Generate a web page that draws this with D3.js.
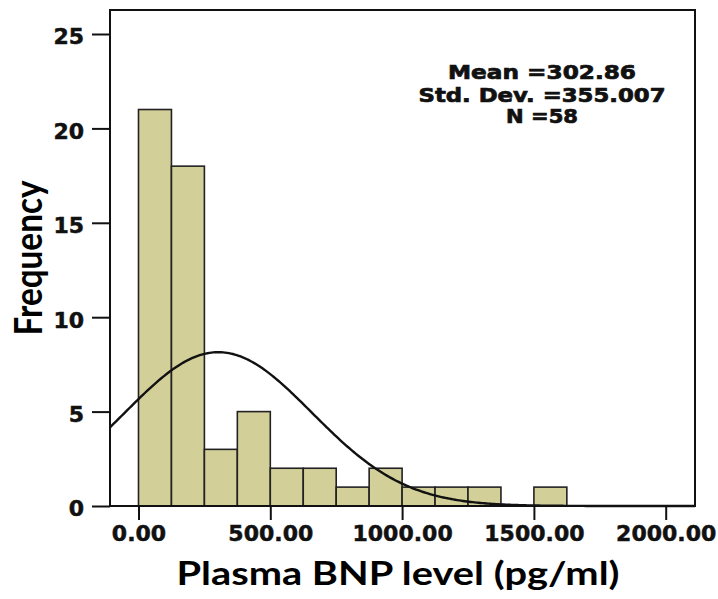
<!DOCTYPE html>
<html>
<head>
<meta charset="utf-8">
<script src="https://cdn.jsdelivr.net/npm/d3@7"></script>
<style>
  body { margin: 0; background: #fff; }
  svg { display: block; }
</style>
</head>
<body>
<script>
// histogram bins (lower edge) and counts
const binStarts = [0, 125, 250, 375, 500, 625, 750, 875, 1000, 1125, 1250, 1375, 1500];
const counts    = [21, 18, 3, 5, 2, 2, 1, 2, 1, 1, 1, 0, 1];
const binWidth = 125;

const xTicks = [0, 500, 1000, 1500, 2000];
const yTicks = [0, 5, 10, 15, 20, 25];

const mean = 302.86;
const sd = 355.007;
const n = 58;
const statLines = ["Mean =302.86", "Std. Dev. =355.007", "N =58"];

const width = 718, height = 599;
const frame = {left: 110, right: 695, top: 10, bottom: 506};

const svg = d3.select("body").append("svg")
  .attr("width", width)
  .attr("height", height);

const xScale = d3.scaleLinear()
  .domain([0, 2000])
  .range([138.5, 665.7]);

const yScale = d3.scaleLinear()
  .domain([0, 25])
  .range([frame.bottom, 34]);

// bars
svg.selectAll("rect.bar")
  .data(binStarts)
  .enter()
  .append("rect")
  .attr("class", "bar")
  .attr("x", d => xScale(d))
  .attr("y", (d, i) => yScale(counts[i]))
  .attr("width", d => xScale(d + binWidth) - xScale(d))
  .attr("height", (d, i) => yScale(0) - yScale(counts[i]))
  .attr("fill", "#d3cf99")
  .attr("stroke", "#222")
  .attr("stroke-width", 1.6)
  .attr("display", (d, i) => counts[i] > 0 ? null : "none");

// normal curve scaled to counts
const normal = x => n * binWidth * Math.exp(-0.5 * ((x - mean) / sd) ** 2) / (sd * Math.sqrt(2 * Math.PI));
const curveX = d3.range(0, 301).map(i => xScale.invert(frame.left + i * (frame.right - frame.left) / 300));
const line = d3.line()
  .x(d => xScale(d))
  .y(d => yScale(normal(d)));

svg.append("path")
  .datum(curveX)
  .attr("d", line)
  .attr("fill", "none")
  .attr("stroke", "#111")
  .attr("stroke-width", 2.4);

// frame
svg.append("rect")
  .attr("x", frame.left)
  .attr("y", frame.top)
  .attr("width", frame.right - frame.left)
  .attr("height", frame.bottom - frame.top)
  .attr("fill", "none")
  .attr("stroke", "#111")
  .attr("stroke-width", 2);

// axes
const xAxis = d3.axisBottom(xScale)
  .tickValues(xTicks)
  .tickFormat(d3.format(".2f"))
  .tickSize(14)
  .tickPadding(5);

const yAxis = d3.axisLeft(yScale)
  .tickValues(yTicks)
  .tickSize(18)
  .tickPadding(8);

const gx = svg.append("g")
  .attr("transform", `translate(0, ${frame.bottom})`)
  .call(xAxis);

const gy = svg.append("g")
  .attr("transform", `translate(${frame.left}, 0)`)
  .call(yAxis);

[gx, gy].forEach(g => {
  g.select(".domain").remove();
  g.selectAll(".tick line").attr("stroke", "#111").attr("stroke-width", 2);
  g.selectAll(".tick text")
    .attr("fill", "#111")
    .attr("stroke", "#111")
    .attr("stroke-width", 0.5)
    .style("font-family", "'DejaVu Sans', sans-serif")
    .style("font-weight", "bold")
    .style("font-size", "22px");
});
gy.selectAll(".tick text").attr("dy", "0.45em");

// stats box text
svg.append("g")
  .selectAll("text")
  .data(statLines)
  .enter()
  .append("text")
  .attr("x", 542)
  .attr("y", (d, i) => [79, 102, 123][i])
  .attr("text-anchor", "middle")
  .attr("textLength", (d, i) => [188, 247, 72][i])
  .attr("lengthAdjust", "spacingAndGlyphs")
  .style("font-family", "'DejaVu Sans', sans-serif")
  .style("font-weight", "bold")
  .style("font-size", "19px")
  .attr("fill", "#111")
  .attr("stroke", "#111")
  .attr("stroke-width", 0.7)
  .text(d => d);

// axis titles
svg.append("text")
  .attr("x", 398)
  .attr("y", 585)
  .attr("text-anchor", "middle")
  .attr("textLength", 443)
  .attr("lengthAdjust", "spacingAndGlyphs")
  .style("font-family", "Lato, 'Open Sans', sans-serif")
  .style("font-weight", "bold")
  .style("font-size", "32px")
  .attr("fill", "#000")
  .text("Plasma BNP level (pg/ml)");

svg.append("text")
  .attr("transform", "translate(42, 258) rotate(-90)")
  .attr("text-anchor", "middle")
  .attr("textLength", 155)
  .attr("lengthAdjust", "spacingAndGlyphs")
  .style("font-family", "Lato, 'Open Sans', sans-serif")
  .style("font-weight", "bold")
  .style("font-size", "38px")
  .attr("fill", "#000")
  .text("Frequency");
</script>
</body>
</html>
